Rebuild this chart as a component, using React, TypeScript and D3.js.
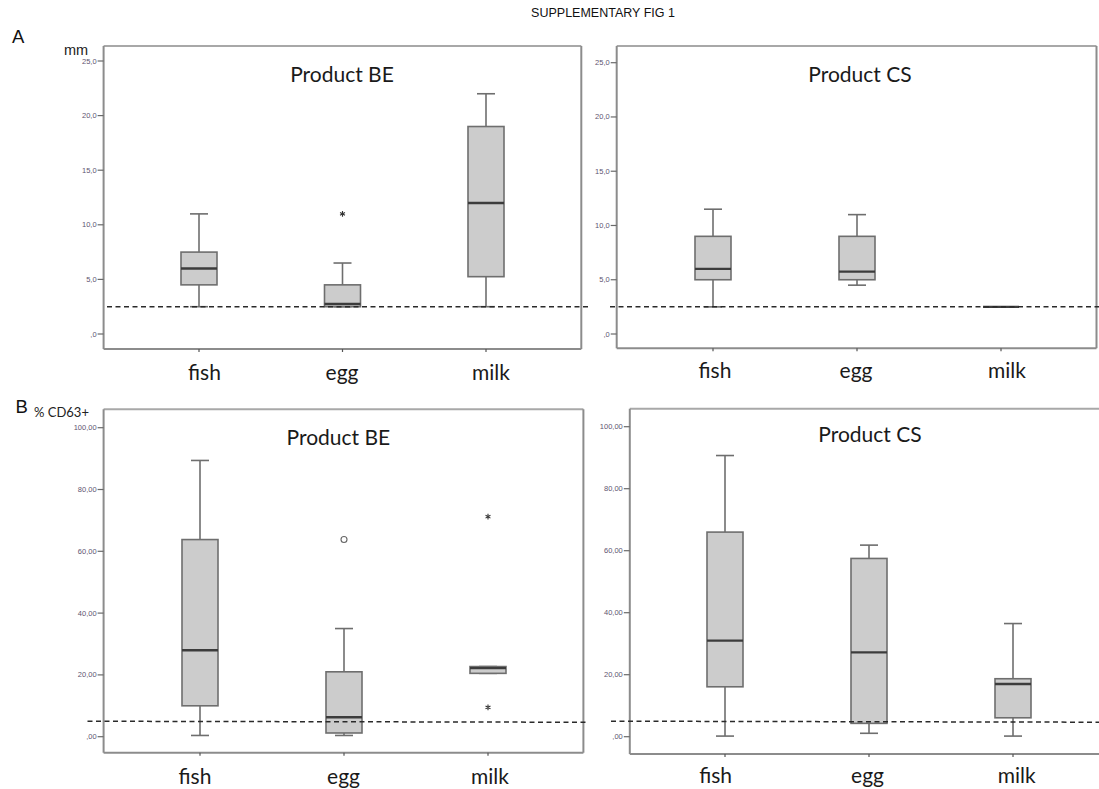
import React from "react";
import * as d3 from "d3";

// ---------- data ----------
const categories = ["fish", "egg", "milk"];

// Panel A: wheal size (mm)
const mmTicks = [0, 5, 10, 15, 20, 25];
const mmTickLabels = [",0", "5,0", "10,0", "15,0", "20,0", "25,0"];
const mmThreshold = 2.5;

const beMmLow = [2.5, 2.5, 2.5];
const beMmQ1 = [4.5, 2.5, 5.25];
const beMmMedian = [6, 2.75, 12];
const beMmQ3 = [7.5, 4.5, 19];
const beMmHigh = [11, 6.5, 22];
const beMmStars = [[], [11], []];
const beMmCircles = [[], [], []];

const csMmLow = [2.5, 4.5, 2.5];
const csMmQ1 = [5, 5, 2.5];
const csMmMedian = [6, 5.75, 2.5];
const csMmQ3 = [9, 9, 2.5];
const csMmHigh = [11.5, 11, 2.5];
const csMmStars = [[], [], []];
const csMmCircles = [[], [], []];

// Panel B: % CD63+
const pctTicks = [0, 20, 40, 60, 80, 100];
const pctTickLabels = [",00", "20,00", "40,00", "60,00", "80,00", "100,00"];
const pctThreshold = 5;

const beCdLow = [0.4, 0.4, 20.5];
const beCdQ1 = [10, 1.2, 20.5];
const beCdMedian = [28, 6.3, 22.2];
const beCdQ3 = [63.8, 21, 22.7];
const beCdHigh = [89.4, 35, 22.7];
const beCdStars = [[], [], [71.2, 9.5]];
const beCdCircles = [[], [63.8], []];

const csCdLow = [0.2, 1.1, 0.2];
const csCdQ1 = [16.1, 4.3, 6.1];
const csCdMedian = [31, 27.2, 17];
const csCdQ3 = [66, 57.5, 18.7];
const csCdHigh = [90.7, 61.8, 36.5];
const csCdStars = [[], [], []];
const csCdCircles = [[], [], []];

// ---------- layout ----------
const W = 1099;
const H = 789;
const BOX_W = 36;
const CAP_W = 18;

type Layout = {
  x0: number; x1: number; y0: number; y1: number;
  yRange: [number, number]; xRange: [number, number];
  title: string; titleX: number; titleY: number;
  labelY: number; labelDx: number[];
  dashX0: number; dashX1: number; dashDy: number;
  drawRight: boolean;
};

type Stats = {
  low: number[]; q1: number[]; med: number[]; q3: number[]; high: number[];
  stars: number[][]; circles: number[][];
};

const TITLE_FONT = "Lato, 'Open Sans', sans-serif";

function Panel({ L, S, ticks, tickLabels, yMax, threshold }: {
  L: Layout; S: Stats; ticks: number[]; tickLabels: string[]; yMax: number; threshold: number;
}) {
  const y = d3.scaleLinear().domain([0, yMax]).range(L.yRange);
  const x = d3.scalePoint<string>().domain(categories).range(L.xRange);
  const frameColor = "#8c8c8c";
  const boxStroke = "#6e6e6e";
  const star = d3.symbol().type(d3.symbolAsterisk).size(22)();
  const ty = y(threshold);
  return (
    <g>
      {/* frame */}
      <line x1={L.x0} x2={L.x1} y1={L.y0} y2={L.y0} stroke="#a8a8a8" strokeWidth={2} />
      <line x1={L.x0} x2={L.x1} y1={L.y1} y2={L.y1} stroke={frameColor} strokeWidth={2} />
      <line x1={L.x0} x2={L.x0} y1={L.y0} y2={L.y1} stroke={frameColor} strokeWidth={2} />
      {L.drawRight && (
        <line x1={L.x1} x2={L.x1} y1={L.y0} y2={L.y1} stroke={frameColor} strokeWidth={2} />
      )}
      {/* y ticks */}
      {ticks.map((t, i) => (
        <g key={"t" + i}>
          <line x1={L.x0 - 6} x2={L.x0} y1={y(t)} y2={y(t)} stroke="#6a6a6a" strokeWidth={1.2} />
          <text x={L.x0 - 7} y={y(t) + 2.5} textAnchor="end" fontSize={7.5}
            fontFamily="'Liberation Sans', Arial, sans-serif" fill="#5e5470">
            {tickLabels[i]}
          </text>
        </g>
      ))}
      {/* x ticks */}
      {categories.map((c) => (
        <line key={"xt" + c} x1={x(c)} x2={x(c)} y1={L.y1} y2={L.y1 + 3} stroke="#555" strokeWidth={1.2} />
      ))}
      {/* title */}
      <text x={L.titleX} y={L.titleY} textAnchor="middle" fontSize={21} fontFamily={TITLE_FONT} fill="#1a1a1a">
        {L.title}
      </text>
      {/* boxes */}
      {categories.map((c, i) => {
        const cx = x(c) as number;
        return (
          <g key={"b" + c}>
            <line x1={cx} x2={cx} y1={y(S.high[i])} y2={y(S.q3[i])} stroke={boxStroke} strokeWidth={1.6} />
            <line x1={cx} x2={cx} y1={y(S.q1[i])} y2={y(S.low[i])} stroke={boxStroke} strokeWidth={1.6} />
            <line x1={cx - CAP_W / 2} x2={cx + CAP_W / 2} y1={y(S.high[i])} y2={y(S.high[i])} stroke={boxStroke} strokeWidth={1.6} />
            <line x1={cx - CAP_W / 2} x2={cx + CAP_W / 2} y1={y(S.low[i])} y2={y(S.low[i])} stroke={boxStroke} strokeWidth={1.6} />
            <rect x={cx - BOX_W / 2} width={BOX_W} y={y(S.q3[i])}
              height={Math.max(0, y(S.q1[i]) - y(S.q3[i]))}
              fill="#cccccc" stroke={boxStroke} strokeWidth={1.6} />
            <line x1={cx - BOX_W / 2} x2={cx + BOX_W / 2} y1={y(S.med[i])} y2={y(S.med[i])} stroke="#3c3c3c" strokeWidth={2.4} />
            {S.stars[i].map((v, k) => (
              <path key={"s" + k} d={star as string} transform={`translate(${cx},${y(v)})`}
                fill="none" stroke="#333" strokeWidth={1.1} />
            ))}
            {S.circles[i].map((v, k) => (
              <circle key={"c" + k} cx={cx} cy={y(v)} r={3} fill="white" stroke="#666" strokeWidth={1.1} />
            ))}
          </g>
        );
      })}
      {/* threshold */}
      <line x1={L.dashX0} x2={L.dashX1} y1={ty} y2={ty + L.dashDy} stroke="#2a2a2a" strokeWidth={1.5} strokeDasharray="5,3.5" />
      {/* category labels */}
      {categories.map((c, i) => (
        <text key={"l" + c} x={(x(c) as number) + L.labelDx[i]} y={L.labelY} textAnchor="middle"
          fontSize={21} fontFamily={TITLE_FONT} fill="#1a1a1a">
          {c}
        </text>
      ))}
    </g>
  );
}

const layoutAL: Layout = {
  x0: 103.6, x1: 581.3, y0: 46, y1: 349, yRange: [334, 61], xRange: [199, 486],
  title: "Product BE", titleX: 342, titleY: 81.7, labelY: 380, labelDx: [5.5, -0.5, 5],
  dashX0: 107, dashX1: 589, dashDy: 0, drawRight: true,
};
const layoutAR: Layout = {
  x0: 616.7, x1: 1096.5, y0: 46, y1: 348.3, yRange: [334, 62.7], xRange: [713, 1001],
  title: "Product CS", titleX: 860, titleY: 81.7, labelY: 378, labelDx: [2, -1, 6],
  dashX0: 610, dashX1: 1099, dashDy: 0, drawRight: true,
};
const layoutBL: Layout = {
  x0: 103.6, x1: 583.4, y0: 409.3, y1: 752.7, yRange: [736.7, 427.7], xRange: [200, 488],
  title: "Product BE", titleX: 338.4, titleY: 445, labelY: 784, labelDx: [-5, -0.5, 2],
  dashX0: 87.5, dashX1: 587.5, dashDy: 1, drawRight: true,
};
const layoutBR: Layout = {
  x0: 629.8, x1: 1102, y0: 408.7, y1: 754, yRange: [736.7, 426.7], xRange: [725, 1013],
  title: "Product CS", titleX: 870, titleY: 441.7, labelY: 783, labelDx: [-9.4, -1.5, 3.6],
  dashX0: 611, dashX1: 1099, dashDy: 1, drawRight: false,
};

export default function App() {
  return (
    <svg width={W} height={H} viewBox={`0 0 ${W} ${H}`}
      style={{ position: "absolute", left: 0, top: 0, background: "white" }}>
      <rect x={0} y={0} width={W} height={H} fill="white" />
      <text x={603} y={17} textAnchor="middle" fontSize={12.5}
        fontFamily="'Liberation Sans', Arial, sans-serif" fill="#111">SUPPLEMENTARY FIG 1</text>
      <text x={12} y={42.7} fontSize={18.5} fontFamily="'Liberation Sans', Arial, sans-serif" fill="#111">A</text>
      <text x={64} y={55} fontSize={14.5} fontFamily="'Liberation Sans', Arial, sans-serif" fill="#222">mm</text>
      <text x={15.5} y={413} fontSize={18.5} fontFamily="'Liberation Sans', Arial, sans-serif" fill="#111">B</text>
      <text x={34} y={417} fontSize={13} fontFamily={TITLE_FONT} fill="#222">% CD63+</text>

      <Panel L={layoutAL} ticks={mmTicks} tickLabels={mmTickLabels} yMax={25} threshold={mmThreshold}
        S={{ low: beMmLow, q1: beMmQ1, med: beMmMedian, q3: beMmQ3, high: beMmHigh, stars: beMmStars, circles: beMmCircles }} />
      <Panel L={layoutAR} ticks={mmTicks} tickLabels={mmTickLabels} yMax={25} threshold={mmThreshold}
        S={{ low: csMmLow, q1: csMmQ1, med: csMmMedian, q3: csMmQ3, high: csMmHigh, stars: csMmStars, circles: csMmCircles }} />
      <Panel L={layoutBL} ticks={pctTicks} tickLabels={pctTickLabels} yMax={100} threshold={pctThreshold}
        S={{ low: beCdLow, q1: beCdQ1, med: beCdMedian, q3: beCdQ3, high: beCdHigh, stars: beCdStars, circles: beCdCircles }} />
      <Panel L={layoutBR} ticks={pctTicks} tickLabels={pctTickLabels} yMax={100} threshold={pctThreshold}
        S={{ low: csCdLow, q1: csCdQ1, med: csCdMedian, q3: csCdQ3, high: csCdHigh, stars: csCdStars, circles: csCdCircles }} />
    </svg>
  );
}
